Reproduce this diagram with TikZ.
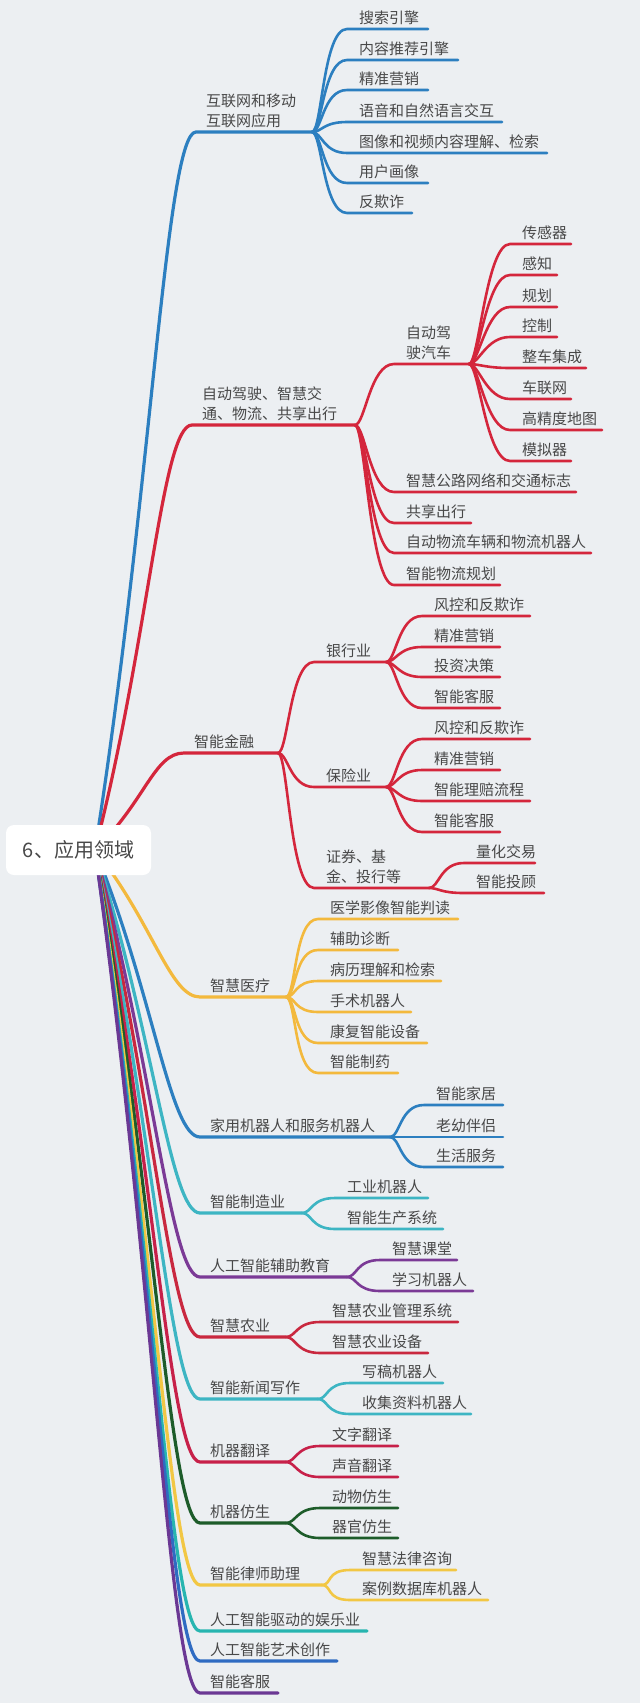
\documentclass[tikz,border=0pt]{standalone}
\usepackage{fontspec}
\setmainfont{Noto Sans CJK SC}
\usetikzlibrary{calc}
\definecolor{bg}{RGB}{236,239,242}
\definecolor{textgray}{RGB}{72,72,72}
\definecolor{cBlue}{RGB}{44,127,192}
\definecolor{cRed}{RGB}{212,38,60}
\definecolor{cGold}{RGB}{243,185,61}
\definecolor{cTeal}{RGB}{61,181,195}
\definecolor{cPurple}{RGB}{123,58,150}
\definecolor{cRedB}{RGB}{201,40,63}
\definecolor{cCrimson}{RGB}{199,32,73}
\definecolor{cGreen}{RGB}{29,92,42}
\definecolor{cYellow}{RGB}{242,199,68}
\definecolor{cTealB}{RGB}{39,181,176}
\definecolor{cBlueB}{RGB}{47,107,194}
\definecolor{cPurpleB}{RGB}{107,56,148}
\tikzset{
  txt/.style={inner sep=0pt, text=textgray, font=\fontsize{15}{20}\selectfont, align=left, anchor=south west},
  mainline/.style={line width=3.2pt, line cap=round, line join=round},
  subline/.style={line width=2.6pt, line cap=round, line join=round},
  rootbox/.style={fill=white, rounded corners=8pt, minimum width=145pt, minimum height=50pt, inner sep=0pt, text=textgray, font=\fontsize{20}{24}\selectfont}
}
% #1 name, #2 colour, #3 y, #4 start x, #5 end x, #6 text
\newcommand\mmmain[6]{%
  \coordinate (#1-s) at (#4,#3);
  \coordinate (#1-e) at (#5,#3);
  \draw[#2, mainline] (R0) .. controls ($(R0)!0.5!(#1-s)+(6,0)$) and ($(#1-s)+(-30,0)$) .. (#1-s) -- (#1-e);
  \node[txt] (#1) at ($(#1-s)+(10,-4)$) {#6};
}
% #1 name, #2 colour, #3 parent hub, #4 start x, #5 y, #6 end x, #7 text
\newcommand\mmleaf[7]{%
  \coordinate (#1-s) at (#4,#5);
  \coordinate (#1-e) at (#6,#5);
  \draw[#2, subline] (#3) .. controls +(10,0) and +(-24,0) .. (#1-s) -- (#1-e);
  \node[txt] (#1) at ($(#1-s)+(12,-4)$) {#7};
}
\begin{document}
\begin{tikzpicture}[x=1pt,y=-1pt]
\fill[bg] (0,0) rectangle (640,1703);
\useasboundingbox (0,0) rectangle (640,1703);
\coordinate (R0) at (95,850);

% 1 互联网
\mmmain{a}{cBlue}{132}{196}{312}{互联网和移动\\互联网应用}
\mmleaf{a1}{cBlue}{a-e}{347}{29}{428}{搜索引擎}
\mmleaf{a2}{cBlue}{a-e}{347}{60}{458}{内容推荐引擎}
\mmleaf{a3}{cBlue}{a-e}{347}{90}{428}{精准营销}
\mmleaf{a4}{cBlue}{a-e}{347}{122}{502}{语音和自然语言交互}
\mmleaf{a5}{cBlue}{a-e}{347}{153}{547}{图像和视频内容理解、检索}
\mmleaf{a6}{cBlue}{a-e}{347}{183}{428}{用户画像}
\mmleaf{a7}{cBlue}{a-e}{347}{213}{412}{反欺诈}

% 2 自动驾驶
\mmmain{b}{cRed}{425}{192}{355}{自动驾驶、智慧交\\通、物流、共享出行}
\mmleaf{b1}{cRed}{b-e}{394}{364}{469}{自动驾\\驶汽车}
\mmleaf{b11}{cRed}{b1-e}{510}{244}{571}{传感器}
\mmleaf{b12}{cRed}{b1-e}{510}{275}{557}{感知}
\mmleaf{b13}{cRed}{b1-e}{510}{307}{557}{规划}
\mmleaf{b14}{cRed}{b1-e}{510}{337}{557}{控制}
\mmleaf{b15}{cRed}{b1-e}{510}{368}{586}{整车集成}
\mmleaf{b16}{cRed}{b1-e}{510}{399}{571}{车联网}
\mmleaf{b17}{cRed}{b1-e}{510}{430}{602}{高精度地图}
\mmleaf{b18}{cRed}{b1-e}{510}{461}{571}{模拟器}
\mmleaf{b2}{cRed}{b-e}{394}{492}{576}{智慧公路网络和交通标志}
\mmleaf{b3}{cRed}{b-e}{394}{523}{471}{共享出行}
\mmleaf{b4}{cRed}{b-e}{394}{553}{591}{自动物流车辆和物流机器人}
\mmleaf{b5}{cRed}{b-e}{394}{585}{500}{智能物流规划}

% 3 智能金融
\mmmain{c}{cRed}{753}{184}{278}{智能金融}
\mmleaf{c1}{cRed}{c-e}{314}{662}{386}{银行业}
\mmleaf{c11}{cRed}{c1-e}{422}{616}{530}{风控和反欺诈}
\mmleaf{c12}{cRed}{c1-e}{422}{647}{500}{精准营销}
\mmleaf{c13}{cRed}{c1-e}{422}{677}{500}{投资决策}
\mmleaf{c14}{cRed}{c1-e}{422}{708}{500}{智能客服}
\mmleaf{c2}{cRed}{c-e}{314}{787}{386}{保险业}
\mmleaf{c21}{cRed}{c2-e}{422}{739}{530}{风控和反欺诈}
\mmleaf{c22}{cRed}{c2-e}{422}{770}{500}{精准营销}
\mmleaf{c23}{cRed}{c2-e}{422}{801}{530}{智能理赔流程}
\mmleaf{c24}{cRed}{c2-e}{422}{832}{500}{智能客服}
\mmleaf{c3}{cRed}{c-e}{314}{888}{429}{证券、基\\金、投行等}
\mmleaf{c31}{cRed}{c3-e}{464}{863}{535}{量化交易}
\mmleaf{c32}{cRed}{c3-e}{464}{893}{544}{智能投顾}

% 4 智慧医疗
\mmmain{d}{cGold}{997}{200}{286}{智慧医疗}
\mmleaf{d1}{cGold}{d-e}{318}{919}{458}{医学影像智能判读}
\mmleaf{d2}{cGold}{d-e}{318}{950}{398}{辅助诊断}
\mmleaf{d3}{cGold}{d-e}{318}{981}{441}{病历理解和检索}
\mmleaf{d4}{cGold}{d-e}{318}{1012}{411}{手术机器人}
\mmleaf{d5}{cGold}{d-e}{318}{1043}{427}{康复智能设备}
\mmleaf{d6}{cGold}{d-e}{318}{1073}{398}{智能制药}

% 5 家用机器人
\mmmain{e}{cBlue}{1137}{200}{390}{家用机器人和服务机器人}
\mmleaf{e1}{cBlue}{e-e}{424}{1105}{503}{智能家居}
\mmleaf{e2}{cBlue}{e-e}{424}{1137}{503}{老幼伴侣}
\mmleaf{e3}{cBlue}{e-e}{424}{1167}{503}{生活服务}

% 6 智能制造业
\mmmain{f}{cTeal}{1213}{200}{302}{智能制造业}
\mmleaf{f1}{cTeal}{f-e}{335}{1198}{428}{工业机器人}
\mmleaf{f2}{cTeal}{f-e}{335}{1229}{443}{智能生产系统}

% 7 教育
\mmmain{g}{cPurple}{1277}{200}{347}{人工智能辅助教育}
\mmleaf{g1}{cPurple}{g-e}{380}{1260}{457}{智慧课堂}
\mmleaf{g2}{cPurple}{g-e}{380}{1291}{473}{学习机器人}

% 8 智慧农业
\mmmain{h}{cRedB}{1337}{200}{286}{智慧农业}
\mmleaf{h1}{cRedB}{h-e}{320}{1322}{458}{智慧农业管理系统}
\mmleaf{h2}{cRedB}{h-e}{320}{1353}{428}{智慧农业设备}

% 9 智能新闻写作
\mmmain{i}{cTeal}{1399}{200}{318}{智能新闻写作}
\mmleaf{i1}{cTeal}{i-e}{350}{1383}{443}{写稿机器人}
\mmleaf{i2}{cTeal}{i-e}{350}{1414}{471}{收集资料机器人}

% 10 机器翻译
\mmmain{j}{cCrimson}{1462}{200}{286}{机器翻译}
\mmleaf{j1}{cCrimson}{j-e}{320}{1446}{398}{文字翻译}
\mmleaf{j2}{cCrimson}{j-e}{320}{1477}{398}{声音翻译}

% 11 机器仿生
\mmmain{k}{cGreen}{1523}{200}{286}{机器仿生}
\mmleaf{k1}{cGreen}{k-e}{320}{1508}{398}{动物仿生}
\mmleaf{k2}{cGreen}{k-e}{320}{1538}{398}{器官仿生}

% 12 智能律师助理
\mmmain{l}{cYellow}{1585}{200}{322}{智能律师助理}
\mmleaf{l1}{cYellow}{l-e}{350}{1570}{456}{智慧法律咨询}
\mmleaf{l2}{cYellow}{l-e}{350}{1600}{488}{案例数据库机器人}

% 13-15
\mmmain{m}{cTealB}{1631}{200}{367}{人工智能驱动的娱乐业}
\mmmain{n}{cBlueB}{1661}{200}{337}{人工智能艺术创作}
\mmmain{o}{cPurpleB}{1693}{200}{278}{智能客服}

% root
\node[rootbox] (root) at (78.5,850) {6、应用领域};
\end{tikzpicture}
\end{document}
